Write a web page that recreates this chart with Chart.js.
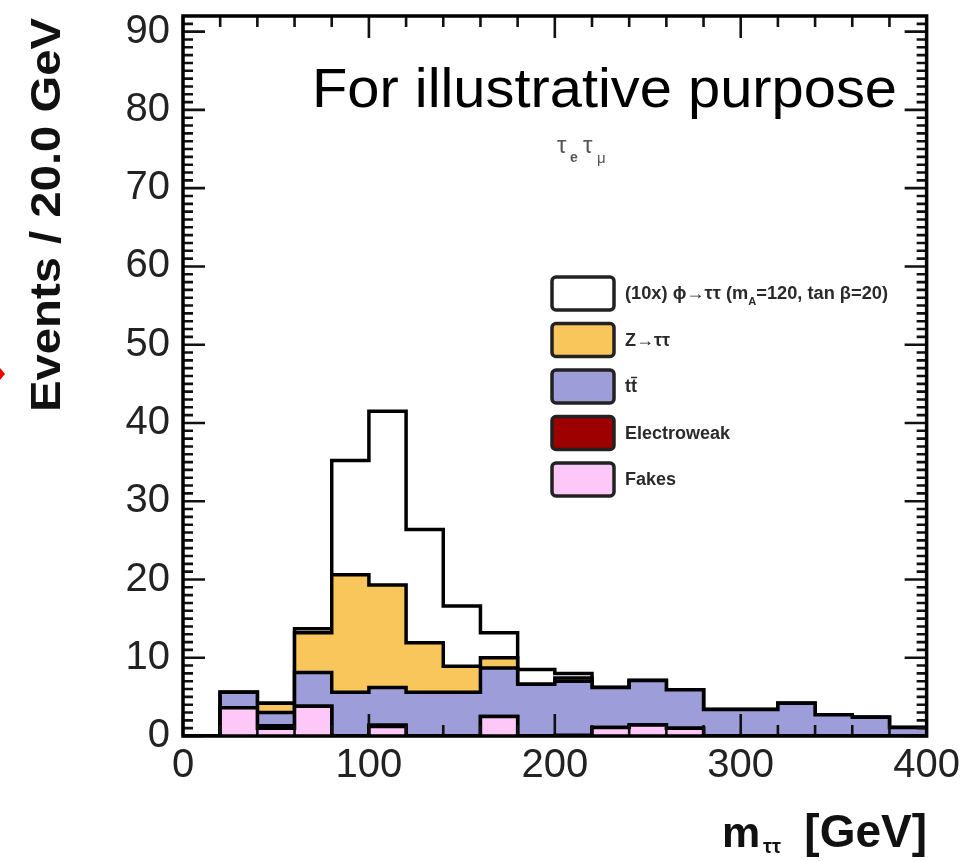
<!DOCTYPE html>
<html>
<head>
<meta charset="utf-8">
<script src="https://cdn.jsdelivr.net/npm/chart.js@4.4.1/dist/chart.umd.min.js"></script>
<style>
  html, body { margin: 0; padding: 0; background: #fff; }
  canvas { display: block; }
</style>
</head>
<body>
<canvas id="myChart" width="970" height="861"></canvas>
<script>
// bin edges, 20 GeV wide
const binEdges = [0, 20, 40, 60, 80, 100, 120, 140, 160, 180, 200, 220, 240, 260, 280, 300, 320, 340, 360, 380, 400];

// events per bin for each process (stacked bottom -> top)
const fakes       = [0, 3.6, 1.0, 3.8, 0, 1.2, 0, 0, 2.5, 0, 0, 1.1, 1.4, 1.0, 0, 0, 0, 0, 0, 0];
const electroweak = [0, 0, 0.3, 0, 0, 0.2, 0, 0, 0, 0, 0.1, 0, 0, 0, 0, 0, 0, 0, 0, 0];
const ttbar       = [0, 2.0, 1.7, 4.3, 5.6, 4.8, 5.6, 5.6, 6.2, 6.6, 6.9, 5.1, 5.7, 4.9, 3.4, 3.4, 4.2, 2.7, 2.4, 1.1];
const ztautau     = [0, 0, 1.2, 5.1, 15.0, 13.1, 6.3, 3.3, 1.3, 0, 0.4, 0, 0, 0, 0, 0, 0, 0, 0, 0];
const signal10x   = [0, 0, 0, 0.5, 14.6, 22.2, 14.5, 7.7, 3.2, 1.9, 0.6, 0, 0, 0, 0, 0, 0, 0, 0, 0];

const xTicks = [0, 100, 200, 300, 400];
const yTicks = [0, 10, 20, 30, 40, 50, 60, 70, 80, 90];

const layerNames  = ['Fakes', 'Electroweak', 'tt', 'Z\u2192\u03c4\u03c4', '(10x) \u03d5\u2192\u03c4\u03c4'];
const layerColors = ['#fdc8f8', '#9e0000', '#9d9dd9', '#f9c65c', '#ffffff'];

// stack the layers
const layers = [fakes, electroweak, ttbar, ztautau, signal10x];
let running = fakes.map(() => 0);
const stacked = layers.map(vals => {
    running = running.map((r, i) => r + vals[i]);
    return running;
});

const datasets = stacked.map((cum, idx) => ({
    label: layerNames[idx],
    data: binEdges.map((e, i) => ({ x: e, y: cum[Math.min(i, cum.length - 1)] })),
    stepped: true,
    fill: 'origin',
    backgroundColor: layerColors[idx],
    borderColor: '#000',
    borderWidth: 3.5,
    borderJoinStyle: 'miter',
    pointRadius: 0,
    order: idx
}));

function fitText(ctx, text, x, y, width) {
    const w = ctx.measureText(text).width;
    ctx.save();
    ctx.translate(x, y);
    ctx.scale(width / w, 1);
    ctx.fillText(text, 0, 0);
    ctx.restore();
}

const FONT = '"Liberation Sans", Arial, sans-serif';

// ROOT style frame, inward ticks, titles and the legend
const rootStyle = {
    id: 'rootStyle',
    afterDatasetsDraw(chart) {
        const ctx = chart.ctx;
        const xs = chart.scales.x, ys = chart.scales.y;
        const a = chart.chartArea;
        ctx.save();
        ctx.strokeStyle = '#111';
        ctx.lineWidth = 2.6;
        ctx.beginPath();
        for (let v = 0; v <= 400; v += 20) {
            const px = xs.getPixelForValue(v);
            const len = v % 100 === 0 ? 22 : 11;
            ctx.moveTo(px, a.bottom); ctx.lineTo(px, a.bottom - len);
            ctx.moveTo(px, a.top); ctx.lineTo(px, a.top + len);
        }
        for (let v = 0; v <= 91; v += 1) {
            const py = ys.getPixelForValue(v);
            const len = v % 10 === 0 ? 22 : 10;
            ctx.moveTo(a.left, py); ctx.lineTo(a.left + len, py);
            ctx.moveTo(a.right, py); ctx.lineTo(a.right - len, py);
        }
        ctx.stroke();
        ctx.lineWidth = 3.5;
        ctx.strokeStyle = '#000';
        ctx.strokeRect(a.left, a.top, a.right - a.left, a.bottom - a.top);

        // big annotation
        ctx.fillStyle = '#000';
        ctx.textBaseline = 'alphabetic';
        ctx.textAlign = 'left';
        ctx.font = '56px ' + FONT;
        fitText(ctx, 'For illustrative purpose', 312, 107, 585);

        // channel label
        ctx.fillStyle = '#555';
        ctx.font = '24px ' + FONT;
        ctx.fillText('\u03c4', 557, 153);
        ctx.font = 'bold 14px ' + FONT;
        ctx.fillText('e', 570, 162);
        ctx.font = '24px ' + FONT;
        ctx.fillText('\u03c4', 583, 153);
        ctx.font = '15px ' + FONT;
        ctx.fillText('\u03bc', 597, 163);

        // y title
        ctx.fillStyle = '#111';
        ctx.save();
        ctx.translate(60, 412);
        ctx.rotate(-Math.PI / 2);
        ctx.font = 'bold 42px ' + FONT;
        fitText(ctx, 'Events / 20.0 GeV', 0, 0, 394);
        ctx.restore();

        // x title
        ctx.font = 'bold 46px ' + FONT;
        ctx.textAlign = 'right';
        ctx.fillText('[GeV]', 927, 847);
        ctx.textAlign = 'left';
        ctx.font = 'bold 43px ' + FONT;
        ctx.fillText('m', 722, 847);
        ctx.font = 'bold 20px ' + FONT;
        ctx.fillText('\u03c4\u03c4', 763, 853);

        // little red arrow tip at the left edge
        ctx.fillStyle = '#e00';
        ctx.beginPath();
        ctx.moveTo(0, 368); ctx.lineTo(5, 374); ctx.lineTo(0, 380);
        ctx.fill();

        // legend, top entry first
        const boxX = 552, boxW = 62, boxH = 33, top0 = 277, step = 46.5;
        for (let k = 0; k < 5; k++) {
            const idx = 4 - k;
            const by = top0 + k * step;
            ctx.fillStyle = layerColors[idx];
            ctx.beginPath();
            ctx.roundRect(boxX, by, boxW, boxH, 4);
            ctx.fill();
            ctx.lineWidth = 3.5;
            ctx.strokeStyle = '#222';
            ctx.stroke();
            ctx.fillStyle = '#2a2a2a';
            ctx.textBaseline = 'middle';
            const ty = by + boxH / 2 + 1;
            ctx.font = 'bold 18px ' + FONT;
            if (idx === 4) {
                const p1 = '(10x) \u03d5\u2192\u03c4\u03c4 (m', p2 = '=120, tan \u03b2=20)';
                const w1 = ctx.measureText(p1).width, w3 = ctx.measureText(p2).width;
                ctx.font = 'bold 11px ' + FONT;
                const w2 = ctx.measureText('A').width;
                const sc = 263 / (w1 + w2 + w3);
                ctx.save();
                ctx.translate(625, ty);
                ctx.scale(sc, 1);
                ctx.font = 'bold 18px ' + FONT;
                ctx.fillText(p1, 0, 0);
                ctx.font = 'bold 11px ' + FONT;
                ctx.fillText('A', w1, 7);
                ctx.font = 'bold 18px ' + FONT;
                ctx.fillText(p2, w1 + w2, 0);
                ctx.restore();
            } else if (idx === 2) {
                // t t-bar
                ctx.fillText('tt', 625, ty);
                const tw = ctx.measureText('t').width;
                ctx.lineWidth = 1.5;
                ctx.strokeStyle = '#2a2a2a';
                ctx.beginPath();
                ctx.moveTo(625 + tw, ty - 10); ctx.lineTo(625 + 2 * tw, ty - 10);
                ctx.stroke();
            } else {
                ctx.fillText(layerNames[idx], 625, ty);
            }
        }
        ctx.restore();
    }
};

const config = {
    type: 'line',
    data: { datasets },
    options: {
        responsive: false,
        animation: false,
        layout: { padding: { top: 16, right: 40, left: 0, bottom: 0 } },
        plugins: {
            legend: { display: false },
            tooltip: { enabled: false },
            filler: { propagate: false }
        },
        scales: {
            x: {
                type: 'linear',
                min: 0,
                max: 400,
                afterBuildTicks: s => { s.ticks = xTicks.map(v => ({ value: v })); },
                afterFit: s => { s.height = 125; },
                grid: { display: false, drawTicks: false },
                border: { display: false },
                ticks: {
                    padding: 10,
                    color: '#222',
                    maxRotation: 0,
                    font: { family: FONT, size: 40, lineHeight: 1 }
                }
            },
            y: {
                min: 0,
                max: 92,
                afterBuildTicks: s => { s.ticks = yTicks.map(v => ({ value: v })); },
                afterFit: s => { s.width = 183; },
                grid: { display: false, drawTicks: false },
                border: { display: false },
                ticks: {
                    padding: 13,
                    color: '#222',
                    // tiny line height keeps the label overflow from pushing the frame down
                    font: { family: FONT, size: 40, lineHeight: 0.05 }
                }
            }
        }
    },
    plugins: [rootStyle]
};

const myChart = new Chart(document.getElementById('myChart'), config);

// nudge the padding so the frame lands where the reference has it
const want = { top: 16, bottom: 736, right: 930 };
const pad = { top: 16, right: 40, left: 0, bottom: 0 };
for (let k = 0; k < 4; k++) {
    const a = myChart.chartArea;
    pad.top += want.top - a.top;
    pad.bottom += a.bottom - want.bottom;
    pad.right += a.right - want.right;
    myChart.config.options.layout.padding = Object.assign({}, pad);
    myChart.update();
}
</script>
</body>
</html>
